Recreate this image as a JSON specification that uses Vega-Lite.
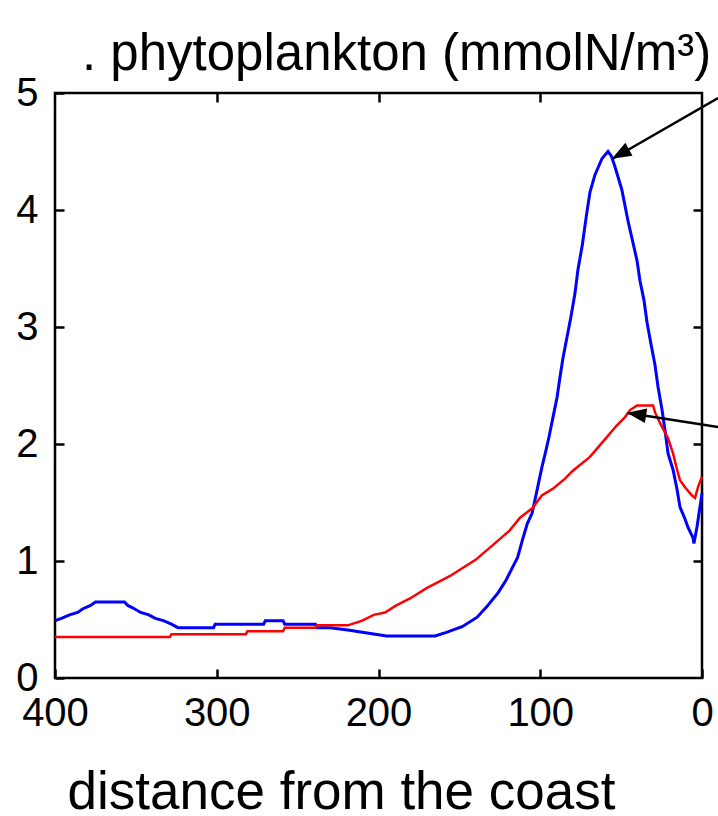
{
  "$schema": "https://vega.github.io/schema/vega-lite/v6.json",
  "width": 647,
  "height": 585,
  "autosize": {"type": "none"},
  "padding": {"left": 55, "top": 93, "right": 16, "bottom": 138},
  "background": "white",
  "config": {
    "view": {"stroke": "black", "strokeWidth": 2.5},
    "font": "Liberation Sans"
  },
  "title": {
    "text": ". phytoplankton (mmolN/m³)",
    "anchor": "start",
    "frame": "group",
    "dx": 27,
    "fontSize": 51,
    "fontWeight": "normal",
    "font": "Liberation Sans",
    "color": "black",
    "offset": -8
  },
  "datasets": {
    "blue": [
      {"d": 400, "v": 0.49}, {"d": 396, "v": 0.51}, {"d": 391, "v": 0.54}, {"d": 386, "v": 0.56},
      {"d": 383, "v": 0.59}, {"d": 378, "v": 0.62}, {"d": 375, "v": 0.65}, {"d": 366, "v": 0.65},
      {"d": 357, "v": 0.65}, {"d": 355, "v": 0.62}, {"d": 352, "v": 0.6}, {"d": 347, "v": 0.56},
      {"d": 342, "v": 0.54}, {"d": 338, "v": 0.51}, {"d": 333, "v": 0.49}, {"d": 328, "v": 0.46},
      {"d": 324, "v": 0.43}, {"d": 302, "v": 0.43}, {"d": 301, "v": 0.46}, {"d": 271, "v": 0.46},
      {"d": 270, "v": 0.49}, {"d": 259, "v": 0.49}, {"d": 258, "v": 0.46}, {"d": 239, "v": 0.46},
      {"d": 238, "v": 0.43}, {"d": 230, "v": 0.43}, {"d": 219, "v": 0.41}, {"d": 205, "v": 0.38},
      {"d": 195, "v": 0.36}, {"d": 165, "v": 0.36}, {"d": 158, "v": 0.39}, {"d": 148, "v": 0.44},
      {"d": 139, "v": 0.52}, {"d": 133, "v": 0.61}, {"d": 126, "v": 0.73}, {"d": 121, "v": 0.84},
      {"d": 117, "v": 0.95}, {"d": 114, "v": 1.03}, {"d": 111, "v": 1.18}, {"d": 108, "v": 1.32},
      {"d": 105, "v": 1.41}, {"d": 103, "v": 1.54}, {"d": 101, "v": 1.67}, {"d": 99, "v": 1.8},
      {"d": 96.4, "v": 1.95}, {"d": 94.6, "v": 2.06}, {"d": 92.1, "v": 2.23}, {"d": 89.6, "v": 2.4},
      {"d": 87.8, "v": 2.57}, {"d": 85.9, "v": 2.74}, {"d": 83.5, "v": 2.91}, {"d": 81, "v": 3.09},
      {"d": 78.5, "v": 3.29}, {"d": 76.7, "v": 3.49}, {"d": 74, "v": 3.7}, {"d": 71.5, "v": 3.95},
      {"d": 69.3, "v": 4.15}, {"d": 66.2, "v": 4.3}, {"d": 61.8, "v": 4.44}, {"d": 58.1, "v": 4.5},
      {"d": 56, "v": 4.46}, {"d": 53.8, "v": 4.37}, {"d": 49.5, "v": 4.17}, {"d": 45.8, "v": 3.91},
      {"d": 40.2, "v": 3.57}, {"d": 38.4, "v": 3.4}, {"d": 35.9, "v": 3.23}, {"d": 34, "v": 3.04},
      {"d": 31.5, "v": 2.85}, {"d": 29.1, "v": 2.68}, {"d": 27.2, "v": 2.49}, {"d": 24.7, "v": 2.29},
      {"d": 22.9, "v": 2.12}, {"d": 21, "v": 1.92}, {"d": 17.9, "v": 1.78}, {"d": 15.4, "v": 1.61},
      {"d": 13.6, "v": 1.46}, {"d": 11.1, "v": 1.38}, {"d": 8.7, "v": 1.29}, {"d": 5.6, "v": 1.2},
      {"d": 5, "v": 1.15}, {"d": 3.1, "v": 1.29}, {"d": 0, "v": 1.58}
    ],
    "red": [
      {"d": 400, "v": 0.35}, {"d": 329, "v": 0.35}, {"d": 328, "v": 0.375}, {"d": 282, "v": 0.375},
      {"d": 281, "v": 0.4}, {"d": 259, "v": 0.4}, {"d": 258, "v": 0.43}, {"d": 239, "v": 0.43},
      {"d": 238, "v": 0.45}, {"d": 219, "v": 0.45}, {"d": 210, "v": 0.49}, {"d": 203, "v": 0.54},
      {"d": 196, "v": 0.56}, {"d": 189, "v": 0.62}, {"d": 180.5, "v": 0.68}, {"d": 170, "v": 0.77},
      {"d": 156, "v": 0.87}, {"d": 140, "v": 1.01}, {"d": 129, "v": 1.14}, {"d": 119, "v": 1.26},
      {"d": 112.5, "v": 1.37}, {"d": 105, "v": 1.45}, {"d": 99, "v": 1.56}, {"d": 92, "v": 1.62},
      {"d": 85, "v": 1.7}, {"d": 80, "v": 1.77}, {"d": 69.3, "v": 1.89}, {"d": 61.2, "v": 2.02},
      {"d": 52.6, "v": 2.16}, {"d": 47.6, "v": 2.23}, {"d": 44.5, "v": 2.29}, {"d": 40.2, "v": 2.33},
      {"d": 30.3, "v": 2.33}, {"d": 29, "v": 2.27}, {"d": 26, "v": 2.18}, {"d": 21, "v": 2.05},
      {"d": 17.9, "v": 1.92}, {"d": 15.4, "v": 1.78}, {"d": 13.6, "v": 1.69}, {"d": 10.5, "v": 1.63},
      {"d": 6.2, "v": 1.56}, {"d": 4.3, "v": 1.54}, {"d": 2.5, "v": 1.63}, {"d": 0, "v": 1.72}
    ],
    "arrows": [
      {"d": -9.9, "v": 4.957, "d2": 55.0, "v2": 4.44, "hd": 50.45, "hv": 4.479, "angle": 241},
      {"d": -9.9, "v": 2.145, "d2": 45.8, "v2": 2.265, "hd": 40.55, "hv": 2.254, "angle": 279}
    ],
    "dummy": [{"d": 0, "v": 0}]
  },
  "layer": [
    {
      "layer": [
        {
          "data": {"name": "blue"},
          "mark": {"type": "line", "color": "#0000ff", "strokeWidth": 3, "clip": false},
          "encoding": {
            "x": {
              "field": "d", "type": "quantitative",
              "scale": {"domain": [400, 0], "nice": false, "zero": false},
              "axis": {
                "orient": "bottom", "values": [400, 300, 200, 100, 0], "format": "d",
                "tickSize": -9, "tickWidth": 2.5, "tickColor": "black",
                "domain": false, "grid": false,
                "labelFontSize": 40, "labelColor": "black", "labelPadding": 24,
                "labelFlush": false, "labelOverlap": false, "labelFont": "Liberation Sans",
                "title": "distance from the coast", "titleFontSize": 53, "titleFontWeight": "normal",
                "titleFont": "Liberation Sans", "titleColor": "black",
                "titleX": 286, "titleY": 130, "titleBaseline": "alphabetic", "titleAlign": "center", "titleAnchor": null
              }
            },
            "y": {
              "field": "v", "type": "quantitative",
              "scale": {"domain": [0, 5], "nice": false, "zero": false},
              "axis": {
                "orient": "left", "values": [0, 1, 2, 3, 4, 5], "format": "d",
                "tickSize": -9, "tickWidth": 2.5, "tickColor": "black",
                "domain": false, "grid": false,
                "labelFontSize": 40, "labelColor": "black", "labelPadding": 26,
                "labelBaseline": "middle", "labelFlush": false, "labelOverlap": false,
                "labelFont": "Liberation Sans", "title": null
              }
            }
          }
        },
        {
          "data": {"name": "red"},
          "mark": {"type": "line", "color": "#ff0000", "strokeWidth": 2.5, "clip": false},
          "encoding": {
            "x": {"field": "d", "type": "quantitative", "title": "distance from the coast"},
            "y": {"field": "v", "type": "quantitative", "title": null}
          }
        },
        {
          "data": {"name": "arrows"},
          "mark": {"type": "rule", "color": "black", "strokeWidth": 2.5, "clip": false},
          "encoding": {
            "x": {"field": "d", "type": "quantitative", "title": "distance from the coast"},
            "y": {"field": "v", "type": "quantitative", "title": null},
            "x2": {"field": "d2"},
            "y2": {"field": "v2"}
          }
        },
        {
          "data": {"name": "arrows"},
          "mark": {
            "type": "point", "filled": true, "color": "black", "opacity": 1,
            "shape": "M0,-1L0.75,1L-0.75,1Z", "size": 380, "strokeWidth": 0, "clip": false
          },
          "encoding": {
            "x": {"field": "hd", "type": "quantitative", "title": "distance from the coast"},
            "y": {"field": "hv", "type": "quantitative", "title": null},
            "angle": {"field": "angle", "type": "quantitative", "scale": null}
          }
        }
      ]
    },
    {
      "data": {"name": "dummy"},
      "mark": {"type": "point", "opacity": 0},
      "encoding": {
        "x": {
          "field": "d", "type": "quantitative",
          "scale": {"domain": [400, 0], "nice": false, "zero": false},
          "axis": {
            "orient": "top", "values": [300, 200, 100], "tickSize": -9, "tickWidth": 2.5,
            "tickColor": "black", "domain": false, "grid": false, "labels": false, "title": null
          }
        },
        "y": {
          "field": "v", "type": "quantitative",
          "scale": {"domain": [0, 5], "nice": false, "zero": false},
          "axis": {
            "orient": "right", "values": [1, 2, 3, 4], "tickSize": -9, "tickWidth": 2.5,
            "tickColor": "black", "domain": false, "grid": false, "labels": false, "title": null
          }
        }
      }
    }
  ],
  "resolve": {"scale": {"x": "independent", "y": "independent"}}
}
